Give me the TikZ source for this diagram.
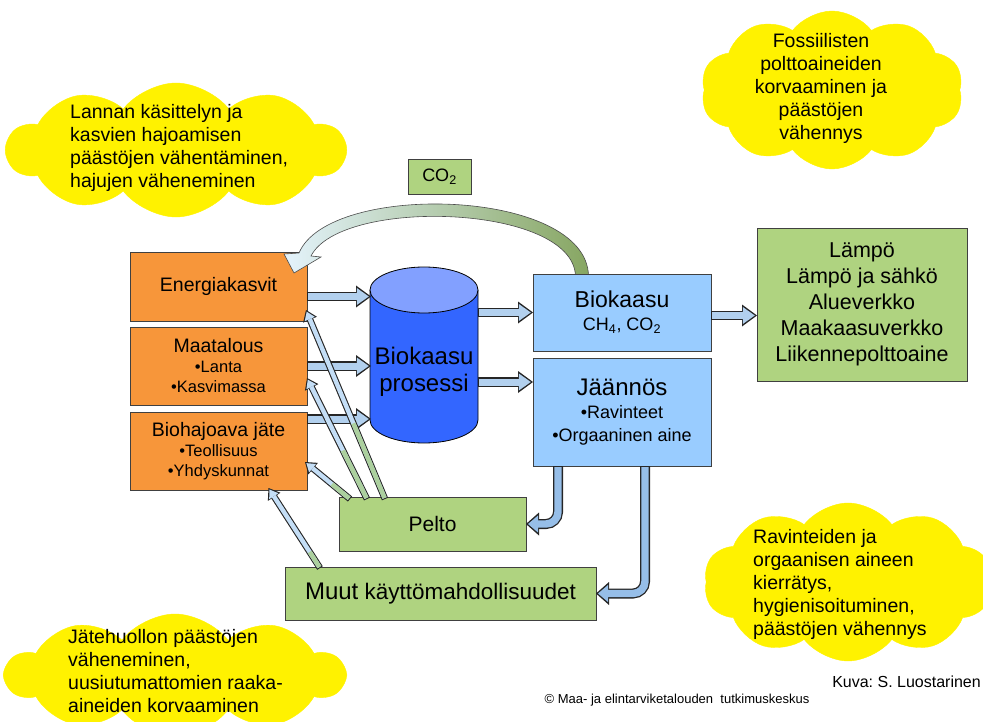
\documentclass[tikz,border=0pt]{standalone}
\usepackage{fontspec}
\setmainfont{Liberation Sans}
\usetikzlibrary{arrows.meta, calc, positioning, shapes.symbols}

\definecolor{feedorange}{RGB}{247,150,58}
\definecolor{gasblue}{RGB}{153,204,255}
\definecolor{usegreen}{RGB}{175,211,128}
\definecolor{cylbody}{RGB}{51,102,255}
\definecolor{cyltop}{RGB}{130,160,255}
\definecolor{arrowblue}{RGB}{178,208,238}
\definecolor{bentblue}{RGB}{150,190,232}
\definecolor{thinblue}{RGB}{196,222,246}
\definecolor{thingreen}{RGB}{172,208,158}
\definecolor{co2light}{RGB}{228,243,252}
\definecolor{co2mid}{RGB}{196,212,208}
\definecolor{co2green}{RGB}{135,166,98}

\begin{document}
\begin{tikzpicture}[x=1pt, y=-1pt]
\tikzset{block/.style={rectangle, align=center, draw=black!75, line width=0.8pt, inner sep=0pt, outer sep=0pt},
		feedbox/.style={block, fill=feedorange, minimum width=177pt, font=\fontsize{16.5}{20}\selectfont},
		gasbox/.style={block, fill=gasblue, minimum width=178pt, font=\fontsize{18}{23}\selectfont},
		usebox/.style={block, fill=usegreen},
		bubble/.style={cloud, cloud puffs=10, cloud puff arc=105, fill=yellow, draw=yellow, inner sep=0pt},
		bubbletext/.style={align=left, inner sep=0pt, font=\fontsize{19.5}{23}\selectfont},
		fatarrow/.style={draw=arrowblue, line width=7pt, -{Triangle[length=12pt, width=17pt, line width=0pt]}, shorten >=2.2pt, shorten <=1.2pt,
			preaction={draw=black!85, line width=9.6pt, -{Triangle[length=15pt, width=22pt, line width=0pt]}, shorten >=0pt, shorten <=0pt}},
		bentarrow/.style={draw=bentblue, line width=7.4pt, rounded corners=12pt, -{Triangle[length=10pt, width=17pt, line width=0pt]}, shorten >=2pt, shorten <=1.2pt,
			preaction={draw=black!85, line width=10pt, -{Triangle[length=13pt, width=23pt, line width=0pt]}, shorten >=0pt, shorten <=0pt}},
		thinarrow/.style={draw=thinblue, line width=4.4pt, -{Triangle[length=8pt, width=11pt, line width=0pt]}, shorten >=1.8pt, shorten <=1.1pt,
			preaction={draw=black!85, line width=6.6pt, -{Triangle[length=10.5pt, width=15pt, line width=0pt]}, shorten >=0pt, shorten <=0pt}},
		thinpart/.style={draw=thingreen, line width=4.4pt, shorten <=1.1pt}}
\useasboundingbox (0,0) rectangle (983,722);

% clouds
\node[bubble, minimum width=338pt, minimum height=134pt] (cloudA) at (176,150) {};
\node[bubbletext, anchor=west] (noteA) at (70,148) {Lannan käsittelyn ja\\kasvien hajoamisen\\päästöjen vähentäminen,\\hajujen väheneminen};
\node[bubble, minimum width=262pt, minimum height=158pt] (cloudB) at (832,90) {};
\node[bubbletext, align=center] (noteB) at (821,88) {Fossiilisten\\polttoaineiden\\korvaaminen ja\\päästöjen\\vähennys};
\node[bubble, minimum width=288pt, minimum height=158pt] (cloudC) at (848,582) {};
\node[bubbletext, anchor=west] (noteC) at (753,584) {Ravinteiden ja\\orgaanisen aineen\\kierrätys,\\hygienisoituminen,\\päästöjen vähennys};
\node[bubble, minimum width=338pt, minimum height=122pt] (cloudD) at (175,675) {};
\node[bubbletext, anchor=west] (noteD) at (68,671) {Jätehuollon päästöjen\\väheneminen,\\uusiutumattomien raaka-\\aineiden korvaaminen};

% feedstocks
\node[feedbox, minimum height=69pt] (energia) at (218.5,286.5) {\fontsize{19.5}{20}\selectfont Energiakasvit};
\node[feedbox, minimum height=78pt, below=6pt of energia] (maatalous) {{\fontsize{19.5}{20}\selectfont Maatalous}\\•Lanta\\•Kasvimassa};
\node[feedbox, minimum height=78pt, below=7pt of maatalous] (jate) {{\fontsize{19.5}{20}\selectfont Biohajoava jäte}\\•Teollisuus\\•Yhdyskunnat};

% CO2 loop
\node[usebox, minimum width=63pt, minimum height=35pt, font=\fontsize{18}{20}\selectfont] (co2) at (439.5,176.5) {CO\textsubscript{2}};
\shadedraw[left color=co2light, middle color=co2mid, right color=co2green, draw=black!70, line width=0.6pt]
	(588.5,276) .. controls (587,188) and (329,181) .. (299,253)
	-- (284,254) -- (294,273) -- (321,257) -- (311,256)
	.. controls (341,197) and (573,204) .. (575.5,276) -- cycle;

% digester
\draw[line width=0.8pt, fill=cylbody] (370,290) -- (370,420) arc[start angle=180, end angle=360, x radius=54pt, y radius=23pt] -- (478,290);
\draw[line width=0.8pt, fill=cyltop] (424,290) ellipse[x radius=54pt, y radius=23pt];
\node[align=center, font=\fontsize{24}{27}\selectfont] (prosessi) at (424,372) {Biokaasu\\prosessi};

% products and uses
\node[gasbox, minimum height=77pt] (biokaasu) at (622,312.5) {{\fontsize{23}{24}\selectfont Biokaasu}\\CH\textsubscript{4}, CO\textsubscript{2}};
\node[gasbox, minimum height=108pt, below=7pt of biokaasu] (jaannos) {{\fontsize{24}{25}\selectfont Jäännös}\\•Ravinteet\\•Orgaaninen aine};
\node[usebox, minimum width=210pt, minimum height=153pt, font=\fontsize{21.5}{26}\selectfont] (lampo) at (862,304.5) {Lämpö\\Lämpö ja sähkö\\Alueverkko\\Maakaasuverkko\\Liikennepolttoaine};
\node[usebox, minimum width=187pt, minimum height=54pt, font=\fontsize{21}{24}\selectfont] (pelto) at (432.5,524) {Pelto};
\node[usebox, minimum width=311pt, minimum height=53pt, font=\fontsize{22.5}{24}\selectfont] (muut) at (440.5,593.5) {{\fontsize{24}{24}\selectfont Muut} käyttömahdollisuudet};

% block arrows
\draw[fatarrow] ($(energia.east)+(0,10)$) -- ++(64,0);
\draw[fatarrow] (maatalous.east) -- ++(64,0);
\draw[fatarrow] ($(jate.east)+(0,-32)$) -- ++(64,0);
\draw[fatarrow] ($(biokaasu.west)+(-55,0)$) -- (biokaasu.west);
\draw[fatarrow] ($(jaannos.west)+(-55,-30)$) -- ++(55,0);
\draw[fatarrow] ($(biokaasu.east)+(0,3)$) -- (lampo.west |- {$(biokaasu.east)+(0,3)$});
\draw[bentarrow] ($(jaannos.south west)+(25,0)$) |- (pelto.east);
\draw[bentarrow] ($(jaannos.south west)+(112,0)$) |- (muut.east);

% back to the feedstocks
\coordinate (fromA) at ($(pelto.north west)+(46,2)$);
\coordinate (fromB) at ($(pelto.north west)+(28,2)$);
\coordinate (fromC) at ($(pelto.north west)+(11,2)$);
\coordinate (fromD) at ($(muut.north west)+(35,1)$);
\coordinate (toA) at ($(energia.south east)+(-1,-11)$);
\coordinate (toB) at ($(maatalous.south east)+(0,-27)$);
\coordinate (toC) at ($(jate.east)+(-2,11)$);
\coordinate (toD) at ($(jate.south)+(50,-2)$);
\draw[thinarrow] (fromA) -- (toA);
\draw[thinarrow] (fromB) -- (toB);
\draw[thinarrow] (fromC) -- (toC);
\draw[thinarrow] (fromD) -- (toD);
\draw[thinpart] (fromA) -- ($(fromA)!0.4!(toA)$);
\draw[thinpart] (fromB) -- ($(fromB)!0.4!(toB)$);
\draw[thinpart] (fromC) -- ($(fromC)!0.4!(toC)$);
\draw[thinpart] (fromD) -- ($(fromD)!0.2!(toD)$);

% credits
\node[anchor=base east, inner sep=0pt, font=\fontsize{16}{18}\selectfont] (kuva) at (981,687) {Kuva:\ S.\ Luostarinen};
\node[anchor=base, inner sep=0pt, font=\fontsize{13}{15}\selectfont] (luke) at (677,703) {© Maa- ja elintarviketalouden\ \ tutkimuskeskus};
\end{tikzpicture}
\end{document}
